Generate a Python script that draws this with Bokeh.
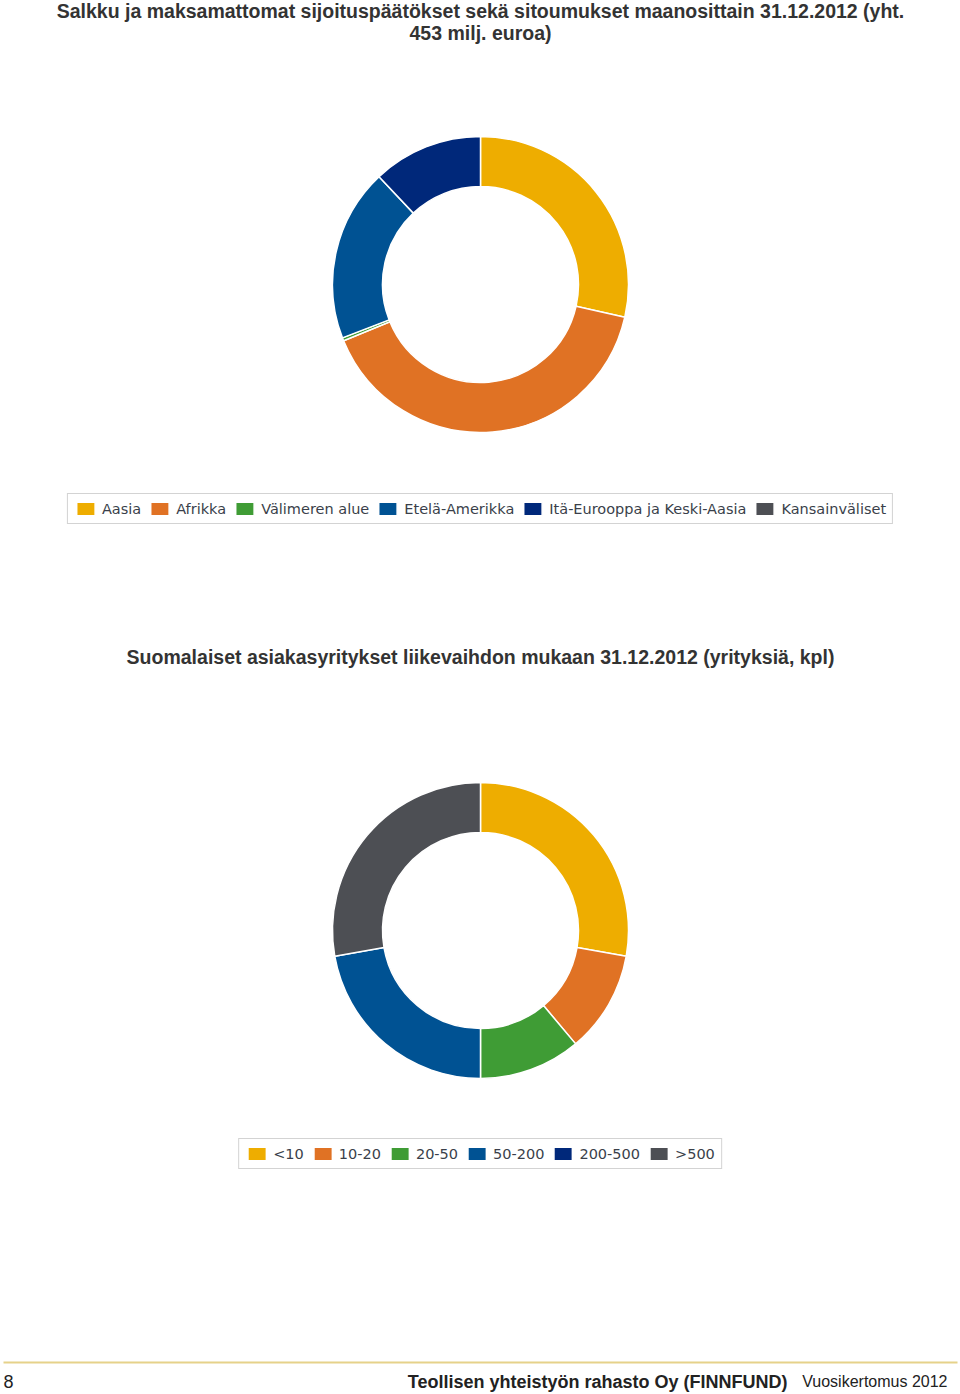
import math
from bokeh.plotting import figure
from bokeh.models import Legend, LegendItem, ColumnDataSource, Range1d
from bokeh.layouts import column
from bokeh.core.properties import value
from bokeh.embed import file_html
from bokeh.resources import INLINE

# ---------------- data ----------------
regions = ["Aasia", "Afrikka", "Välimeren alue", "Etelä-Amerikka",
           "Itä-Eurooppa ja Keski-Aasia", "Kansainväliset"]
region_values = [129.5, 182.5, 1.5, 85.5, 54.5, 0.0]   # milj. euroa (yht. 453)

size_classes = ["<10", "10-20", "20-50", "50-200", "200-500", ">500"]
size_counts = [10, 4, 4, 8, 0, 10]                     # yrityksiä, kpl

colors = ["#EEAD00", "#E07224", "#3F9C35", "#005293", "#00287A", "#4D4F54"]

title1a = "Salkku ja maksamattomat sijoituspäätökset sekä sitoumukset maanosittain 31.12.2012 (yht."
title1b = "453 milj. euroa)"
title2 = "Suomalaiset asiakasyritykset liikevaihdon mukaan 31.12.2012 (yrityksiä, kpl)"
footer_page = "8"
footer_bold = "Teollisen yhteistyön rahasto Oy (FINNFUND)"
footer_norm = "Vuosikertomus 2012"

W = 960
H1 = 600
H2 = 794
TITLE_FONT = "Liberation Sans"
TEXT_COLOR = "#333333"
NAN = float("nan")


def make_fig(h):
    p = figure(width=W, height=h, x_range=Range1d(0, W), y_range=Range1d(0, h),
               output_backend="svg", toolbar_location=None, min_border=0)
    p.axis.visible = False
    p.grid.visible = False
    p.outline_line_color = None
    p.background_fill_color = "white"
    p.border_fill_color = "white"
    return p


def donut(p, cx, cy, cats, vals, r_in, r_out):
    """One renderer per category; zero-valued categories are not drawn
    (NaN position) but still get a legend entry."""
    total = float(sum(vals))
    renderers = []
    acc = 0.0
    for cat, v, col in zip(cats, vals, colors):
        s = math.pi / 2 - 2 * math.pi * acc / total
        acc += v
        e = math.pi / 2 - 2 * math.pi * acc / total
        if v > 0:
            data = dict(x=[cx], y=[cy], start=[s], end=[e])
        else:
            data = dict(x=[NAN], y=[NAN], start=[s], end=[e])
        src = ColumnDataSource(data)
        r = p.annular_wedge(x="x", y="y", inner_radius=r_in, outer_radius=r_out,
                            inner_radius_units="screen", outer_radius_units="screen",
                            start_angle="start", end_angle="end", direction="clock",
                            fill_color=col, line_color="white", line_width=1.5,
                            source=src)
        renderers.append(r)
    return renderers


def add_legend(p, renderers, cats, margin):
    items = [LegendItem(label=c, renderers=[r]) for c, r in zip(cats, renderers)]
    lg = Legend(items=items, orientation="horizontal", location="bottom_center",
                margin=margin, padding=6, spacing=7, label_standoff=5,
                glyph_width=23, glyph_height=17,
                label_text_font="DejaVu Sans", label_text_font_size="14.5px",
                label_text_color="#3a3f4a", label_text_baseline="middle",
                border_line_color="#a8a8a8", border_line_width=1.2,
                background_fill_color="white", background_fill_alpha=1.0)
    p.add_layout(lg, "center")


# ---------------- chart 1 ----------------
p1 = make_fig(H1)
p1.text(x=[W / 2, W / 2], y=[H1 - 10, H1 - 32], text=[title1a, title1b],
        text_align="center", text_baseline="middle",
        text_font=value(TITLE_FONT), text_font_style="bold",
        text_font_size="19.5px", text_color=TEXT_COLOR)
r1 = donut(p1, W / 2, H1 - 284, regions, region_values, 98, 148)
add_legend(p1, r1, regions, H1 - 524)

# ---------------- chart 2 ----------------
p2 = make_fig(H2)
p2.text(x=[W / 2], y=[H2 - 56], text=[title2],
        text_align="center", text_baseline="middle",
        text_font=value(TITLE_FONT), text_font_style="bold",
        text_font_size="19.5px", text_color=TEXT_COLOR)
r2 = donut(p2, W / 2, H2 - 330, size_classes, size_counts, 98, 148)
add_legend(p2, r2, size_classes, H2 - 1169 + 600)

# footer
p2.line(x=[3, 957], y=[H2 - 762, H2 - 762], line_color="#E6D28A", line_width=2)
p2.text(x=[3], y=[H2 - 781], text=[footer_page], text_align="left",
        text_baseline="middle", text_font=value(TITLE_FONT),
        text_font_size="18px", text_color="#222222")
p2.text(x=[787], y=[H2 - 781], text=[footer_bold], text_align="right",
        text_baseline="middle", text_font=value(TITLE_FONT), text_font_style="bold",
        text_font_size="18px", text_color="#222222")
p2.text(x=[947], y=[H2 - 781], text=[footer_norm], text_align="right",
        text_baseline="middle", text_font=value(TITLE_FONT),
        text_font_size="16px", text_color="#222222")

layout = column(p1, p2, spacing=0)
open("out.html", "w").write(file_html(layout, INLINE))
